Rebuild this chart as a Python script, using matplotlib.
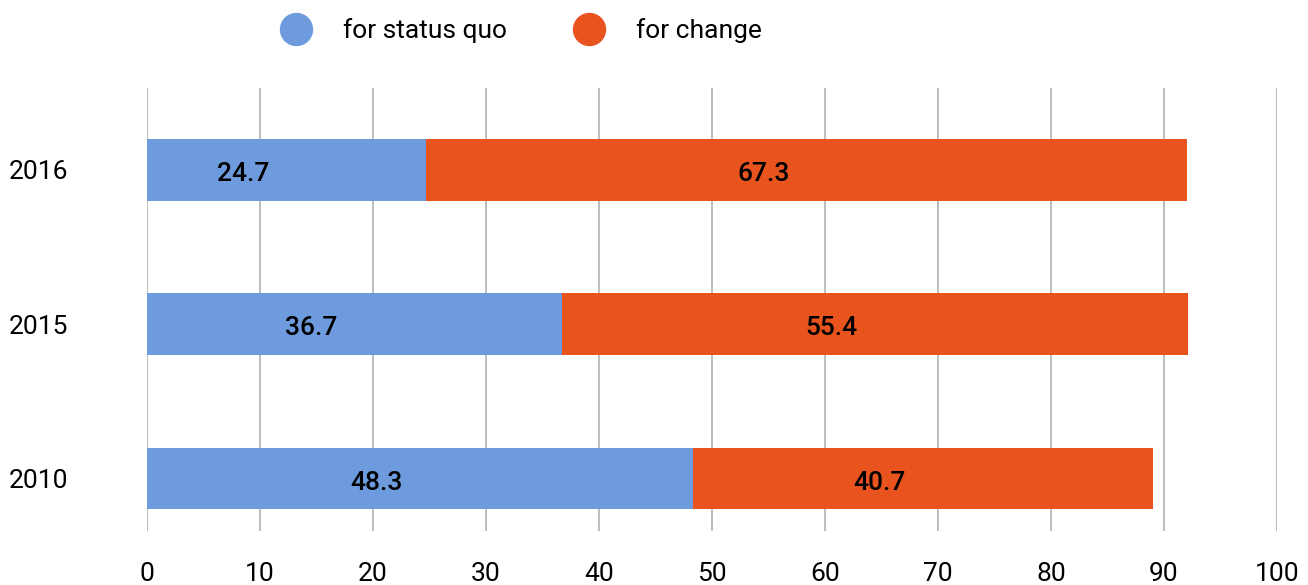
import matplotlib.pyplot as plt
from matplotlib.lines import Line2D

plt.rcParams['font.family'] = ['Roboto', 'DejaVu Sans']

# data
years = ['2010', '2015', '2016']
status_quo = [48.3, 36.7, 24.7]
change = [40.7, 55.4, 67.3]
series_names = ['for status quo', 'for change']

blue = '#6D9BDE'
orange = '#E8531E'

fig = plt.figure(figsize=(13.08, 5.85), dpi=100)
ax = fig.add_axes([0.1124, 0.0923, 0.8639, 0.7573])

pos = list(range(len(years)))
ax.barh(pos, status_quo, height=0.40, color=blue, zorder=2)
ax.barh(pos, change, left=status_quo, height=0.40, color=orange, zorder=2)

# value labels (shifted a bit left of each segment centre, like the original)
for i in pos:
    segs = [(0, status_quo[i]), (status_quo[i], change[i])]
    for left, w in segs:
        ax.annotate(f'{w:.1f}', xy=(left + w / 2, i), xytext=(-31, -3),
                    textcoords='offset points', ha='center', va='center',
                    fontsize=19, fontweight='medium', color='black', zorder=3)

ax.set_xlim(0, 100)
ax.set_ylim(-0.34, 2.53)
ax.set_xticks(range(0, 101, 10))
ax.set_yticks(pos)
ax.set_yticklabels(years)

ax.grid(axis='x', color='#ABABAB', linewidth=1.1, zorder=0)
ax.set_axisbelow(True)
for s in ax.spines.values():
    s.set_visible(False)
ax.tick_params(axis='x', length=0, pad=22, labelsize=19)
ax.tick_params(axis='y', length=0, pad=57, labelsize=19)

handles = [Line2D([], [], marker='o', linestyle='none', markersize=23,
                  markerfacecolor=c, markeredgecolor=c) for c in (blue, orange)]
fig.legend(handles, series_names, loc='center left',
           bbox_to_anchor=(280 / 1308, 1 - 31 / 585), ncol=2, frameon=False,
           fontsize=19, handlelength=1.2, handletextpad=1.17,
           columnspacing=2.54, borderpad=0, borderaxespad=0)

plt.savefig('out.png', dpi=100)
